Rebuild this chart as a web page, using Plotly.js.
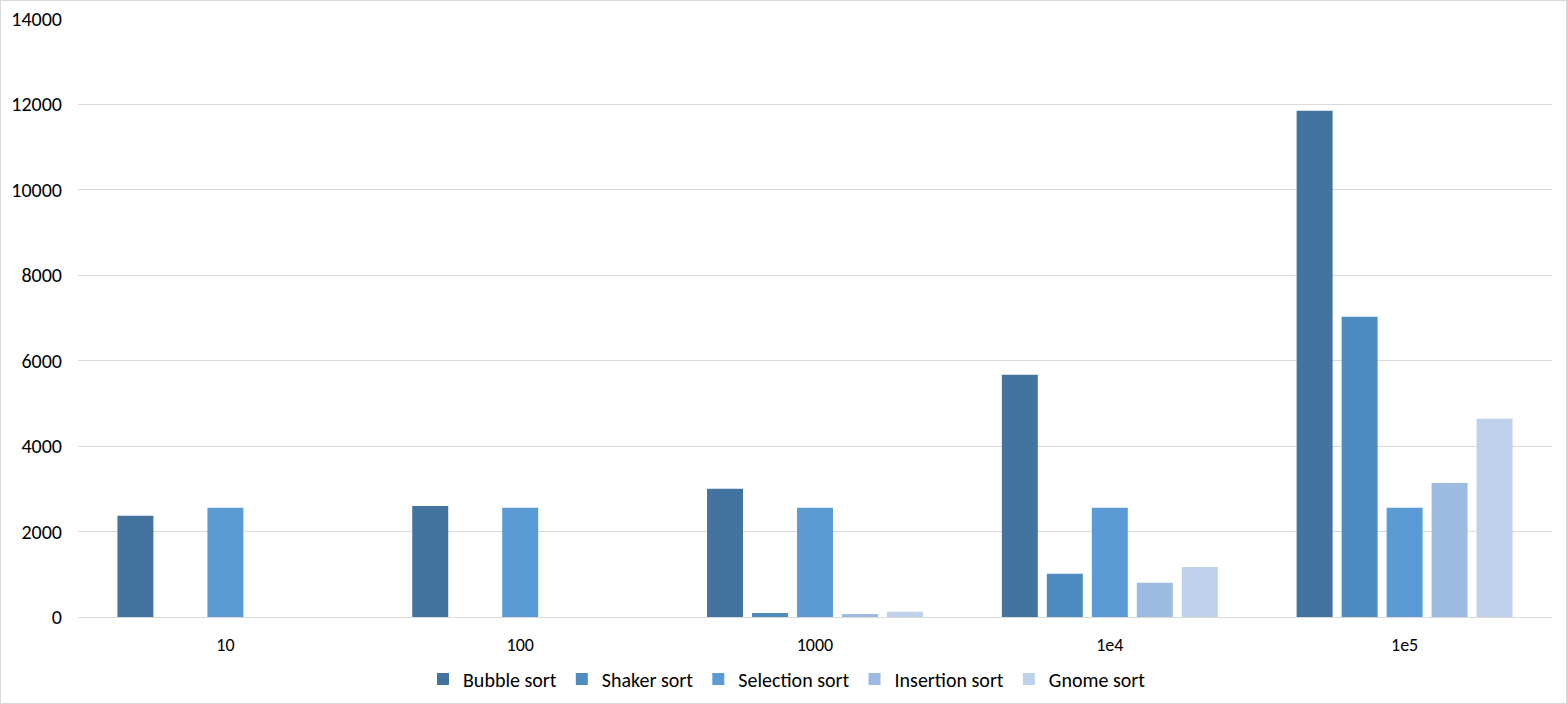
<!DOCTYPE html>
<html>
<head>
<meta charset="utf-8">
<script src="https://cdn.plot.ly/plotly-3.0.1.min.js"></script>
<style>
html,body{margin:0;padding:0;background:#fff;}
#chart{width:1567px;height:704px;position:relative;}
#frame{position:absolute;left:0;top:0;width:1565px;height:702px;border:1px solid #D9D9D9;pointer-events:none;}
</style>
</head>
<body>
<div style="position:relative;width:1567px;height:704px;">
<div id="chart"></div>
<div id="frame"></div>
</div>
<script>
const categories = ["10", "100", "1000", "1e4", "1e5"];
const seriesNames = ["Bubble sort", "Shaker sort", "Selection sort", "Insertion sort", "Gnome sort"];
const bubbleSort    = [2370, 2600, 3000, 5670, 11850];
const shakerSort    = [0, 0, 95, 1010, 7030];
const selectionSort = [2560, 2560, 2560, 2560, 2560];
const insertionSort = [0, 0, 70, 800, 3140];
const gnomeSort     = [0, 0, 120, 1170, 4640];
const yTicks = [0, 2000, 4000, 6000, 8000, 10000, 12000, 14000];

const colors = ["#43749F", "#4E8BC0", "#5B9BD5", "#9DBBE1", "#BFD1EA"];
const values = [bubbleSort, shakerSort, selectionSort, insertionSort, gnomeSort];

const traces = values.map((v, i) => ({
  type: "bar",
  name: seriesNames[i],
  x: categories,
  y: v,
  marker: {color: colors[i], line: {width: 0}},
  hoverinfo: "x+y+name"
}));

const fam = "Carlito, Calibri, 'Liberation Sans', 'Open Sans', sans-serif";

const layout = {
  width: 1567,
  height: 704,
  margin: {l: 78, r: 15, t: 19, b: 87, autoexpand: false},
  paper_bgcolor: "#fff",
  plot_bgcolor: "#fff",
  font: {family: fam, size: 20, color: "#000"},
  barmode: "group",
  bargap: 0.237,
  bargroupgap: 0.2,
  showlegend: true,
  legend: {
    orientation: "h",
    x: 0.481, xanchor: "center",
    y: -0.1037, yanchor: "middle",
    font: {family: fam, size: 20, color: "#000"},
    itemwidth: 30,
    traceorder: "normal"
  },
  xaxis: {
    type: "category",
    tickfont: {family: fam, size: 18, color: "#000"},
    showgrid: false,
    showline: true,
    linecolor: "#D9D9D9",
    linewidth: 1,
    ticks: "",
    ticklabelstandoff: 11,
    zeroline: false,
    fixedrange: true
  },
  yaxis: {
    range: [0, 14000],
    tickvals: yTicks,
    ticktext: yTicks.map(String),
    tickfont: {family: fam, size: 20, color: "#000"},
    showgrid: true,
    gridcolor: "#D9D9D9",
    gridwidth: 1,
    zeroline: false,
    showline: false,
    ticks: "",
    ticklabelstandoff: 15,
    fixedrange: true
  }
};

Plotly.newPlot("chart", traces, layout, {displayModeBar: false, staticPlot: true});
</script>
</body>
</html>
